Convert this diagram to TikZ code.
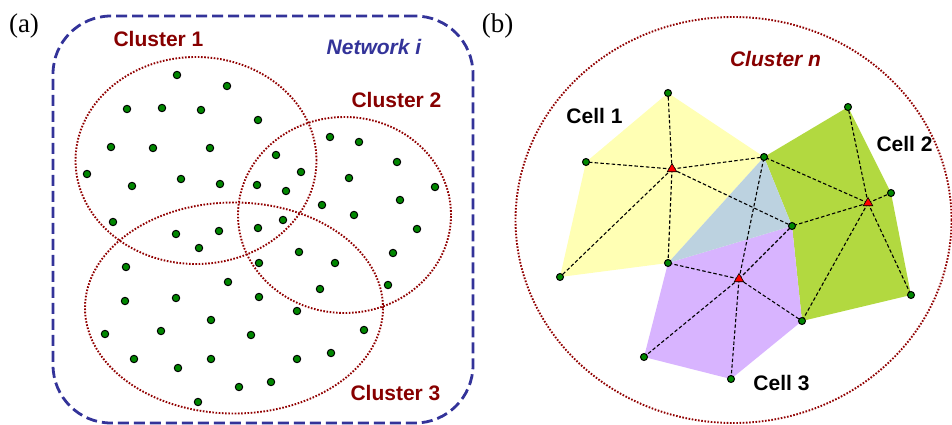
\documentclass[tikz,border=0pt]{standalone}
\usepackage{fontspec}
\setmainfont{Liberation Serif}
\newfontfamily\labfont{Liberation Sans}
\usetikzlibrary{shapes.geometric}
\pgfdeclarelayer{background}
\pgfsetlayers{background,main}
\definecolor{clred}{RGB}{135,0,0}
\definecolor{elred}{RGB}{145,0,0}
\definecolor{netblue}{RGB}{51,51,153}
\definecolor{dotgreen}{RGB}{0,135,0}
\definecolor{cellyellow}{RGB}{255,255,180}
\definecolor{cellgreen}{RGB}{178,217,64}
\definecolor{cellpurple}{RGB}{216,180,255}
\definecolor{cellblue}{RGB}{188,210,224}
\begin{document}
\begin{tikzpicture}[x=1pt,y=-1pt,
  dot/.style={circle,draw=black,fill=dotgreen,line width=1pt,inner sep=0pt,minimum size=7.4pt},
  sdot/.style={dot,minimum size=7pt},
  tri/.style={regular polygon,regular polygon sides=3,draw=black,fill=red,line width=0.6pt,inner sep=0pt,minimum size=11pt},
  clell/.style={ellipse,draw=elred,line width=1.9pt,dash pattern=on 1.6pt off 1.6pt,inner sep=0pt},
  netframe/.style={draw=netblue,line width=2.8pt,dash pattern=on 11pt off 5pt,rounded corners=58pt,inner sep=0pt},
  cllab/.style={font=\labfont\bfseries\fontsize{21}{24}\selectfont,text=clred,anchor=base,inner sep=0pt},
  celllab/.style={font=\labfont\bfseries\fontsize{21}{24}\selectfont,text=black,anchor=base,inner sep=0pt},
  panellab/.style={font=\fontsize{27}{30}\selectfont,anchor=base,inner sep=0pt},
  link/.style={black,line width=1.1pt,dash pattern=on 3.5pt off 2.2pt}]
\useasboundingbox (0,0) rectangle (952,425);

% ---------- panel (a) ----------
\node[panellab] (la) at (24,33) {(a)};
\node[netframe,minimum width=420pt,minimum height=407pt] (net) at (263,219.5) {};
\node[clell,minimum width=241pt,minimum height=207pt] (c1) at (196,160.5) {};
\node[clell,minimum width=213pt,minimum height=196pt] (c2) at (344.5,215) {};
\node[clell,minimum width=298pt,minimum height=211pt] (c3) at (234,308) {};
\node[cllab] (lc1) at (158.5,47) {Cluster 1};
\node[cllab] (lc2) at (396.5,107) {Cluster 2};
\node[cllab] (lc3) at (395.5,400) {Cluster 3};
\node[cllab,text=netblue,font=\labfont\bfseries\itshape\fontsize{21}{24}\selectfont] (lnet) at (374,55) {Network i};
\foreach \p [count=\i] in {(177,75),(227,86),(127,109),(162,108),(201,110),(258,120),(111,147),(153,148),(210,148),(276,155),(87,174),(132,186),(181,179),(220,184),(301,172),(257,185),(286,191),(330,137),(359,142),(397,162),(349,178),(435,187),(400,200),(322,205),
(113,222),(176,234),(199,248),(219,231),(258,228),(283,220),(354,215),(417,229),(126,267),(259,263),(299,252),(335,263),(393,253),(228,282),(125,301),(176,298),(259,297),(320,289),(388,285),(297,311),(211,320),(105,334),(161,331),(251,335),(364,330),(134,359),(178,368),(211,359),(297,359),(331,353),(239,387),(271,382),(198,402)}
  \node[dot] (a\i) at \p {};

% ---------- panel (b) ----------
\node[panellab] (lb) at (497.5,33) {(b)};
\node[clell,minimum width=436pt,minimum height=406pt] (cn) at (733.5,220) {};
\node[cllab,font=\labfont\bfseries\itshape\fontsize{21}{24}\selectfont] (lcn) at (775.5,67) {Cluster n};
\node[celllab] (cell1) at (594.5,124) {Cell 1};
\node[celllab] (cell2) at (904.5,151) {Cell 2};
\node[celllab] (cell3) at (781.5,390) {Cell 3};

\node[sdot] (p1) at (668,93) {};
\node[sdot] (p2) at (848,107) {};
\node[sdot] (p3) at (586,162) {};
\node[sdot] (p4) at (764,157) {};
\node[sdot] (p5) at (891,193) {};
\node[sdot] (p6) at (792,226) {};
\node[sdot] (p7) at (668,263) {};
\node[sdot] (p8) at (560,277) {};
\node[sdot] (p9) at (911,295) {};
\node[sdot] (p10) at (802,321) {};
\node[sdot] (p11) at (644,357) {};
\node[sdot] (p12) at (731,379) {};
\node[tri] (t1) at (672,169) {};
\node[tri] (t2) at (868,203) {};
\node[tri] (t3) at (739,279) {};

\begin{pgfonlayer}{background}
  \fill[cellyellow] (p1.center) -- (p4.center) -- (p7.center) -- (p8.center) -- (p3.center) -- cycle;
  \fill[cellgreen] (p4.center) -- (p2.center) -- (p5.center) -- (p9.center) -- (p10.center) -- (p6.center) -- cycle;
  \fill[cellpurple] (p7.center) -- (p6.center) -- (p10.center) -- (p12.center) -- (p11.center) -- cycle;
  \fill[cellblue] (p4.center) -- (p6.center) -- (p7.center) -- cycle;
  \foreach \q in {p1,p3,p4,p6,p7,p8} \draw[link] (t1.center) -- (\q.center);
  \foreach \q in {p2,p4,p5,p6,p9,p10} \draw[link] (t2.center) -- (\q.center);
  \foreach \q in {p4,p6,p7,p10,p11,p12} \draw[link] (t3.center) -- (\q.center);
\end{pgfonlayer}
\end{tikzpicture}
\end{document}
